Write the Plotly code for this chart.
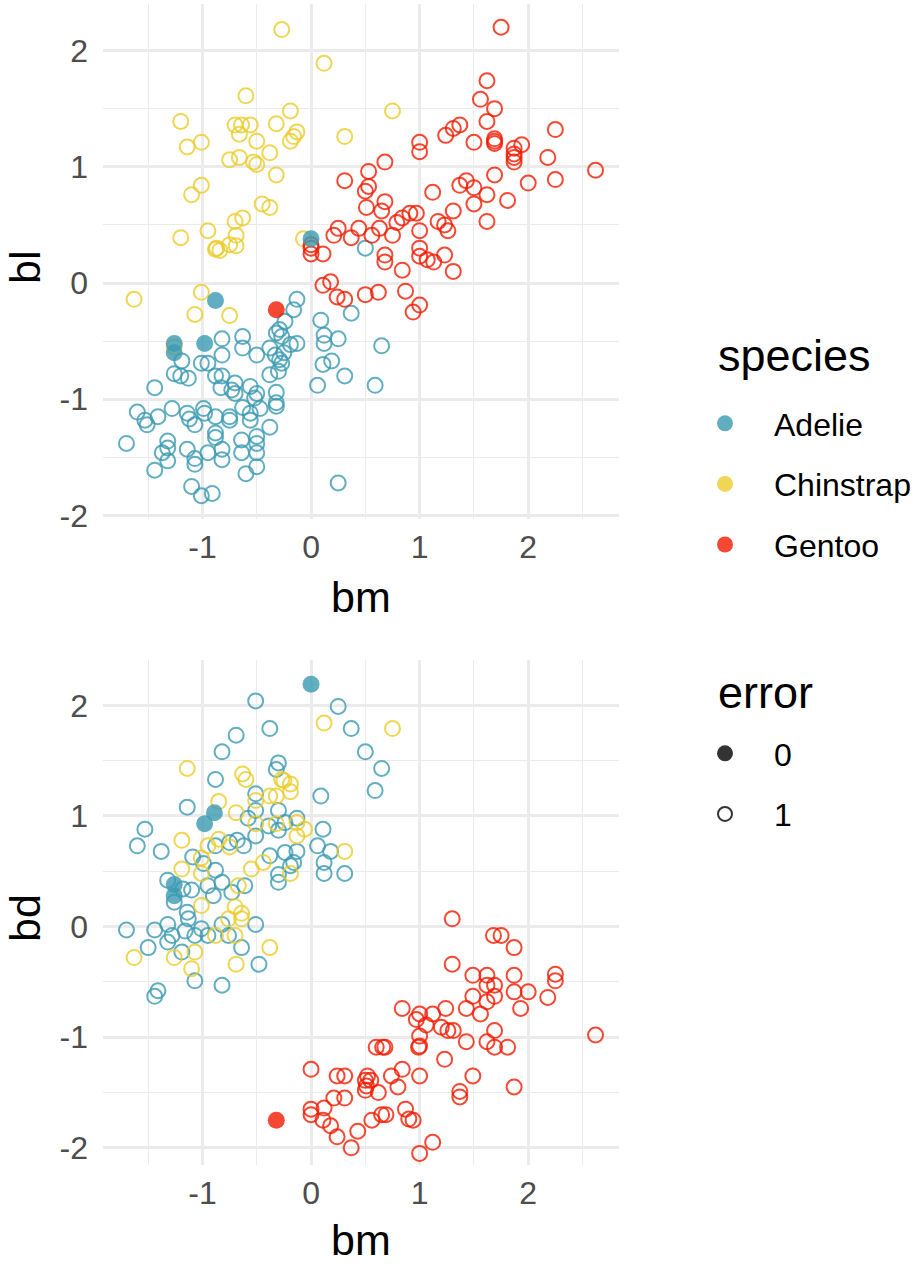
import plotly.graph_objects as go

# ---- standardised penguin measurements: bm = body mass, bl = bill length, bd = bill depth ----
# panel 1: (bm, bl) pairs, correctly classified (error = 1)
adelie_bl = [
    (-0.82, -0.48), (-0.63, -0.46), (-0.63, -0.56), (-0.82, -0.62), (-0.50, -0.62), (-0.38, -0.56),
    (-0.32, -0.43), (-0.27, -0.46), (-0.33, -0.62), (-0.29, -0.66), (-1.19, -0.67), (-1.01, -0.69),
    (-0.95, -0.69), (-1.26, -0.78), (-1.20, -0.80), (-1.13, -0.82), (-0.88, -0.80), (-0.82, -0.80),
    (-0.83, -0.90), (-0.70, -0.86), (-0.73, -0.92), (-0.70, -0.95), (-0.56, -0.89), (-0.50, -0.95),
    (-0.52, -0.99), (-0.38, -0.79), (-0.32, -0.94), (-0.32, -1.03), (-0.32, -1.06), (-1.44, -0.90),
    (-1.60, -1.11), (-1.53, -1.18), (-1.51, -1.22), (-1.41, -1.15), (-1.28, -1.08), (-1.14, -1.12),
    (-1.12, -1.17), (-1.07, -1.22), (-0.99, -1.08), (-0.98, -1.12), (-0.88, -1.15), (-0.75, -1.15),
    (-0.75, -1.18), (-0.63, -1.07), (-0.56, -1.12), (-0.56, -1.18), (-0.47, -1.08), (-0.38, -1.24),
    (-0.88, -1.29), (-0.88, -1.33), (-1.70, -1.38), (-1.32, -1.36), (-1.32, -1.42), (-1.37, -1.46),
    (-1.32, -1.53), (-1.44, -1.61), (-1.14, -1.43), (-1.07, -1.51), (-1.07, -1.56), (-0.95, -1.46),
    (-0.82, -1.43), (-0.82, -1.52), (-0.64, -1.35), (-0.64, -1.46), (-0.50, -1.32), (-0.50, -1.38),
    (-0.50, -1.46), (-0.50, -1.58), (-0.60, -1.64), (-1.10, -1.75), (-1.01, -1.83), (-0.91, -1.81),
    (-0.13, -0.14), (-0.16, -0.23), (-0.24, -0.33), (-0.29, -0.40), (-0.13, -0.52), (-0.19, -0.53),
    (-0.25, -0.60), (-0.27, -0.69), (-0.30, -0.76), (0.09, -0.32), (0.12, -0.45), (0.12, -0.52),
    (0.25, -0.48), (0.37, -0.26), (0.19, -0.67), (0.11, -0.70), (0.31, -0.80), (0.06, -0.88),
    (0.65, -0.54), (0.59, -0.88), (0.25, -1.72), (0.50, 0.30),
]
chinstrap_bl = [
    (-0.27, 2.18), (-0.60, 1.61), (-1.20, 1.39), (-0.70, 1.36), (-0.64, 1.36), (-0.56, 1.36),
    (-0.66, 1.28), (-0.32, 1.37), (-1.14, 1.17), (-1.01, 1.21), (-0.50, 1.22), (-0.75, 1.06),
    (-0.66, 1.08), (-0.53, 1.04), (-0.50, 1.02), (-0.38, 1.12), (-0.32, 0.93), (-1.01, 0.84),
    (-1.10, 0.76), (-0.45, 0.68), (-0.38, 0.65), (-0.63, 0.56), (-0.70, 0.53), (-0.95, 0.45),
    (-1.20, 0.39), (-0.69, 0.41), (-0.75, 0.33), (-0.69, 0.32), (-0.87, 0.30), (-0.84, 0.28),
    (-0.88, 0.29), (0.12, 1.89), (-0.19, 1.48), (-0.13, 1.30), (-0.16, 1.26), (-0.19, 1.22),
    (0.31, 1.26), (0.75, 1.48), (-0.07, 0.38), (-1.63, -0.14), (-1.01, -0.08), (-1.07, -0.27),
    (-0.75, -0.28), (-1.26, -0.55),
]
gentoo_bl = [
    (1.00, 1.21), (1.00, 1.13), (1.24, 1.27), (1.31, 1.33), (1.37, 1.36), (0.68, 1.04), (0.53, 0.96),
    (0.31, 0.88), (0.53, 0.83), (0.50, 0.79), (1.12, 0.78), (0.68, 0.70), (0.51, 0.65), (0.65, 0.62),
    (0.91, 0.60), (0.97, 0.60), (0.84, 0.56), (0.79, 0.52), (1.17, 0.53), (1.23, 0.50), (1.26, 0.45),
    (0.25, 0.47), (0.21, 0.41), (0.44, 0.47), (0.37, 0.39), (0.63, 0.47), (0.56, 0.41), (0.75, 0.41),
    (1.00, 0.45), (1.00, 0.30), (1.00, 0.23), (1.07, 0.20), (1.13, 0.18), (1.23, 0.24), (0.68, 0.24),
    (0.68, 0.18), (0.84, 0.11), (0.11, 0.25), (0.00, 0.33), (0.00, 0.25), (0.00, 0.30),
    (1.75, 2.20), (1.62, 1.74), (1.56, 1.58), (1.69, 1.50), (1.62, 1.39), (1.50, 1.21), (1.69, 1.24),
    (1.69, 1.22), (1.69, 1.20), (2.25, 1.32), (1.94, 1.19), (1.87, 1.16), (1.87, 1.11), (1.87, 1.08),
    (1.87, 1.04), (2.18, 1.08), (2.62, 0.97), (1.69, 0.93), (2.25, 0.89), (2.00, 0.86), (1.43, 0.88),
    (1.37, 0.84), (1.50, 0.82), (1.62, 0.76), (1.81, 0.71), (1.50, 0.68), (1.31, 0.62), (1.62, 0.53),
    (1.31, 0.10), (0.11, -0.02), (0.18, 0.01), (0.24, -0.12), (0.31, -0.14), (0.50, -0.10),
    (0.62, -0.08), (0.87, -0.07), (1.00, -0.19), (0.94, -0.25),
]

# panel 2: (bm, bd) pairs, correctly classified (error = 1)
adelie_bd = [
    (-0.51, 2.04), (-0.38, 1.79), (-0.69, 1.73), (-0.82, 1.58), (-0.88, 1.33), (-0.30, 1.48),
    (-0.32, 1.42), (-1.14, 1.08), (-0.51, 1.20), (-0.51, 1.05), (-0.30, 1.05), (-0.58, 0.98),
    (-0.51, 0.82), (-0.39, 0.91), (-0.30, 0.87), (-1.53, 0.88), (-1.60, 0.73), (-1.38, 0.68),
    (-0.88, 0.73), (-0.75, 0.76), (-0.68, 0.78), (-0.62, 0.73), (-1.09, 0.63), (-0.99, 0.57),
    (-0.88, 0.51), (-0.38, 0.64), (-0.30, 0.47), (-0.30, 0.40), (-1.32, 0.42), (-1.18, 0.34),
    (-1.10, 0.33), (-0.95, 0.37), (-0.82, 0.40), (-0.90, 0.28), (-0.73, 0.31), (-0.61, 0.37),
    (-1.14, 0.13), (-1.26, 0.22), (0.25, 1.99), (0.37, 1.79), (0.50, 1.58), (0.65, 1.43),
    (0.59, 1.23), (0.09, 1.18), (-0.13, 0.98), (-0.24, 0.94), (0.11, 0.88), (0.06, 0.73),
    (0.18, 0.68), (0.12, 0.58), (0.12, 0.48), (0.31, 0.48), (-0.24, 0.67), (-0.13, 0.68),
    (-0.16, 0.58), (-0.19, 0.55), (-1.70, -0.03), (-1.44, -0.03), (-1.32, 0.02), (-1.28, -0.08),
    (-1.32, -0.14), (-1.50, -0.19), (-1.13, 0.07), (-1.16, -0.04), (-1.07, -0.08), (-1.01, -0.02),
    (-0.95, -0.08), (-1.19, -0.23), (-1.07, -0.49), (-1.41, -0.58), (-1.44, -0.63), (-0.82, -0.53),
    (-0.82, 0.02), (-0.76, -0.08), (-0.64, -0.19), (-0.48, -0.34), (-0.51, 0.02),
]
chinstrap_bd = [
    (-1.14, 1.43), (-0.63, 1.38), (-0.60, 1.33), (-0.27, 1.33), (-0.85, 1.13), (-0.69, 1.03),
    (-0.51, 1.14), (-0.38, 1.18), (-0.32, 1.18), (-0.51, 0.93), (-0.32, 0.93), (-1.19, 0.78),
    (-0.85, 0.79), (-0.95, 0.73), (-0.75, 0.72), (-1.01, 0.62), (-1.19, 0.52), (-1.01, 0.48),
    (-0.55, 0.52), (-0.44, 0.58), (-0.67, 0.37), (-1.01, 0.19), (-0.70, 0.18), (-0.64, 0.12),
    (0.12, 1.84), (0.75, 1.79), (-0.19, 1.29), (-0.19, 1.22), (-0.25, 1.32), (-0.13, 0.94),
    (-0.06, 0.88), (-0.13, 0.82), (0.31, 0.68), (-0.19, 0.48), (-1.63, -0.28), (-1.26, -0.28),
    (-1.07, -0.23), (-1.10, -0.38), (-0.76, 0.07), (-0.64, 0.07), (-0.88, -0.08), (-0.70, -0.08),
    (-0.69, -0.34), (-0.38, -0.19),
]
gentoo_bd = [
    (1.30, 0.07), (1.30, -0.34), (0.84, -0.74), (1.00, -0.79), (0.97, -0.84), (1.12, -0.79),
    (1.06, -0.89), (1.24, -0.74), (1.20, -0.91), (1.26, -0.94), (1.31, -0.94), (1.00, -0.99),
    (0.99, -1.09), (1.00, -1.08), (1.23, -1.20), (0.60, -1.09), (0.68, -1.09), (0.66, -1.09),
    (0.00, -1.29), (0.24, -1.35), (0.31, -1.35), (0.52, -1.35), (0.50, -1.39), (0.55, -1.39),
    (0.51, -1.44), (0.50, -1.48), (0.62, -1.50), (0.74, -1.35), (0.84, -1.29), (0.80, -1.45),
    (1.00, -1.35), (0.21, -1.55), (0.31, -1.55), (0.00, -1.65), (0.00, -1.70), (0.12, -1.64),
    (0.11, -1.75), (0.18, -1.80), (0.24, -1.90), (0.37, -2.00), (0.43, -1.85), (0.56, -1.75),
    (0.65, -1.70), (0.69, -1.70), (0.87, -1.65), (0.90, -1.74), (0.94, -1.75), (1.00, -2.05),
    (1.12, -1.95), (1.68, -0.08), (1.75, -0.08), (1.87, -0.19), (1.49, -0.44), (1.62, -0.44),
    (1.87, -0.44), (2.25, -0.43), (2.25, -0.49), (1.62, -0.53), (1.69, -0.53), (1.87, -0.59),
    (2.00, -0.59), (2.18, -0.64), (1.49, -0.63), (1.69, -0.63), (1.62, -0.68), (1.43, -0.74),
    (1.56, -0.79), (1.93, -0.74), (1.69, -0.94), (1.62, -1.04), (1.69, -1.09), (1.81, -1.09),
    (1.43, -1.04), (2.62, -0.98), (1.49, -1.35), (1.37, -1.49), (1.37, -1.54), (1.87, -1.45),
]

# misclassified penguins (error = 0)
adelie_err_bl = [(0.00, 0.38), (-0.88, -0.15), (-0.98, -0.52), (-1.26, -0.52), (-1.26, -0.60)]
gentoo_err_bl = [(-0.32, -0.23)]
adelie_err_bd = [(0.00, 2.19), (-0.89, 1.03), (-0.98, 0.93), (-1.26, 0.38), (-1.26, 0.28)]
gentoo_err_bd = [(-0.32, -1.75)]

species = ["Adelie", "Chinstrap", "Gentoo"]
colors = {"Adelie": "rgba(59,154,178,0.8)", "Chinstrap": "rgba(235,204,42,0.8)",
          "Gentoo": "rgba(242,26,0,0.8)"}

x_ticks = [-1, 0, 1, 2]
x_labels = ["-1", "0", "1", "2"]
y_ticks = [-2, -1, 0, 1, 2]
y_labels = ["-2", "-1", "0", "1", "2"]

FONT = "Liberation Sans, Arial, sans-serif"
TICK_SIZE = 32
TITLE_SIZE = 43
LEGEND_TITLE = 45
LEGEND_TEXT = 32

fig = go.Figure()


def add_points(pairs, sp, xaxis, yaxis, filled):
    if not pairs:
        return
    xs = [p[0] for p in pairs]
    ys = [p[1] for p in pairs]
    if filled:
        marker = dict(symbol="circle", size=17, color=colors[sp], line=dict(width=0))
    else:
        marker = dict(symbol="circle-open", size=15, color=colors[sp], line=dict(width=2, color=colors[sp]))
    fig.add_trace(go.Scatter(x=xs, y=ys, mode="markers", marker=marker, showlegend=False,
                             xaxis=xaxis, yaxis=yaxis, hoverinfo="x+y"))


open_bl = {"Adelie": adelie_bl, "Chinstrap": chinstrap_bl, "Gentoo": gentoo_bl}
open_bd = {"Adelie": adelie_bd, "Chinstrap": chinstrap_bd, "Gentoo": gentoo_bd}
err_bl = {"Adelie": adelie_err_bl, "Chinstrap": [], "Gentoo": gentoo_err_bl}
err_bd = {"Adelie": adelie_err_bd, "Chinstrap": [], "Gentoo": gentoo_err_bd}

for sp in species:
    add_points(open_bl[sp], sp, "x", "y", False)
    add_points(open_bd[sp], sp, "x2", "y2", False)
for sp in species:
    add_points(err_bl[sp], sp, "x", "y", True)
    add_points(err_bd[sp], sp, "x2", "y2", True)

# legend entries
for sp in species:
    fig.add_trace(go.Scatter(x=[None], y=[None], mode="markers", name=sp, legend="legend",
                             legendgroup=sp,
                             marker=dict(symbol="circle", size=16, color=colors[sp], line=dict(width=0))))
fig.add_trace(go.Scatter(x=[None], y=[None], mode="markers", name="0", legend="legend2", legendgroup="e0",
                         marker=dict(symbol="circle", size=16, color="rgba(0,0,0,0.8)", line=dict(width=0))))
fig.add_trace(go.Scatter(x=[None], y=[None], mode="markers", name="1", legend="legend2", legendgroup="e1",
                         marker=dict(symbol="circle-open", size=14, color="rgba(0,0,0,0.8)",
                                     line=dict(width=2, color="rgba(0,0,0,0.8)"))))

W, H = 915, 1272


def px_x(p):
    return p / W


def px_y(p):
    return 1 - p / H


grid = dict(showgrid=True, gridcolor="#EBEBEB", gridwidth=2.5, zeroline=False, showline=False,
            ticks="", automargin=False,
            tickfont=dict(family=FONT, size=TICK_SIZE, color="#4D4D4D"),
            minor=dict(showgrid=True, gridcolor="#EBEBEB", gridwidth=1.3, dtick=0.5, tick0=0),
            fixedrange=True)

title_font = dict(size=TITLE_SIZE, family=FONT, color="black")
legend_common = dict(xanchor="left", yanchor="top", itemwidth=88, tracegroupgap=16,
                     font=dict(size=LEGEND_TEXT, family=FONT, color="black"),
                     bgcolor="rgba(0,0,0,0)")


def label(text, x, y, angle=0, xanchor="center", size=TITLE_SIZE):
    return dict(text=text, x=px_x(x), y=px_y(y), xref="paper", yref="paper", showarrow=False,
                xanchor=xanchor, yanchor="middle", textangle=angle,
                font=dict(size=size, family=FONT, color="black"))


fig.update_layout(
    width=W, height=H, margin=dict(l=0, r=0, t=0, b=0, autoexpand=False),
    paper_bgcolor="white", plot_bgcolor="white",
    font=dict(family=FONT, color="black"),
    xaxis=dict(domain=[px_x(103), px_x(619)], range=[-1.916, 2.836], tickvals=x_ticks,
               ticktext=x_labels, anchor="y", ticklabelstandoff=6, **grid),
    yaxis=dict(domain=[px_y(519), px_y(4)], range=[-2.03, 2.40], tickvals=y_ticks,
               ticktext=y_labels, anchor="x", ticklabelstandoff=14, **grid),
    xaxis2=dict(domain=[px_x(103), px_x(619)], range=[-1.916, 2.836], tickvals=x_ticks,
                ticktext=x_labels, anchor="y2", ticklabelstandoff=6, **grid),
    yaxis2=dict(domain=[px_y(1165), px_y(660)], range=[-2.155, 2.41], tickvals=y_ticks,
                ticktext=y_labels, anchor="x2", ticklabelstandoff=14, **grid),
    legend=dict(x=px_x(676), y=px_y(396), **legend_common),
    legend2=dict(x=px_x(676), y=px_y(726), **legend_common),
    annotations=[
        label("bm", 361, 597),
        label("bl", 25, 268, angle=-90),
        label("bm", 361, 1240),
        label("bd", 25, 918, angle=-90),
        label("species", 716, 355, xanchor="left", size=LEGEND_TITLE),
        label("error", 716, 692, xanchor="left", size=LEGEND_TITLE),
    ],
)

fig.write_html("out.html")
